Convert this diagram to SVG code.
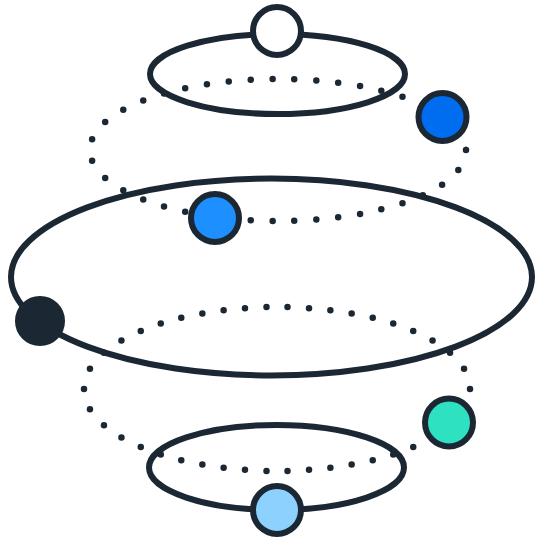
<svg xmlns="http://www.w3.org/2000/svg" width="536" height="541" viewBox="0 0 536 541">
<style>
.ring{fill:none;stroke:#1b2733;stroke-width:6}
.dots{fill:none;stroke:#1b2733;stroke-width:6.5;stroke-linecap:round;stroke-dasharray:0 1}
.node{stroke:#1b2733;stroke-width:6}
</style>
<rect width="536" height="541" fill="#ffffff"/>
<g id="connectors">
<ellipse id="orbit-top" class="ring" cx="277.5" cy="74" rx="127.5" ry="40"/>
<ellipse id="orbit-middle" class="ring" cx="271.5" cy="277" rx="260.5" ry="98.5"/>
<ellipse id="orbit-bottom" class="ring" cx="276.5" cy="467.5" rx="127.5" ry="42.5"/>
<ellipse id="path-upper" class="dots" cx="278" cy="150" rx="188" ry="71" pathLength="39"/>
<ellipse id="path-lower" class="dots" cx="277" cy="389" rx="193" ry="82" pathLength="42"/>
</g>
<g id="node-white"><circle class="node" cx="277" cy="31" r="24" fill="#ffffff"/></g>
<g id="node-darkblue"><circle class="node" cx="442.5" cy="117" r="24" fill="#006cf0"/></g>
<g id="node-blue"><circle class="node" cx="215" cy="218" r="24" fill="#1e8fff"/></g>
<g id="node-black"><circle class="node" cx="40" cy="321" r="22" fill="#1b2733"/></g>
<g id="node-teal"><circle class="node" cx="449" cy="422.5" r="24" fill="#2de1c1"/></g>
<g id="node-lightblue"><circle class="node" cx="277" cy="510" r="24" fill="#8dd2ff"/></g>
</svg>
